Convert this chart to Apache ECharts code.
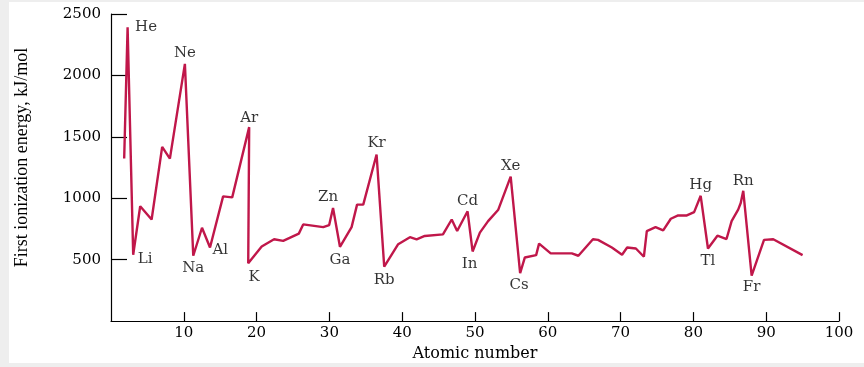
<!DOCTYPE html>
<html><head><meta charset="utf-8">
<script src="https://cdn.jsdelivr.net/npm/echarts@6/dist/echarts.min.js"></script>
<style>html,body{margin:0;padding:0;background:#fff}#c{width:864px;height:367px}</style>
</head><body><div id="c"></div><script>
// Atomic number (as drawn) and first ionization energy (kJ/mol)
const atomicX = [1.81,2.28,3.05,4.01,5.58,7.03,8.09,10.15,11.3,12.5,13.6,15.4,16.65,18.98,18.85,20.7,22.4,23.65,25.8,26.4,29.15,29.97,30.5,31.45,33.05,33.8,34.65,36.48,37.53,39.45,41.06,41.98,43.1,45.6,46.8,47.55,48.98,49.67,50.67,51.8,53.2,54.9,56.2,56.85,58.4,58.8,60.4,63.3,64.2,66.2,66.9,68.8,70.2,70.9,72.1,73.2,73.6,74.8,75.85,76.9,77.9,79.1,80.1,81.0,82.0,83.3,84.55,85.25,86.15,86.5,86.85,88.0,89.7,90.97,95.0];
const energy = [1323,2392,540,935,827,1418,1323,2094,532,760,599,1015,1007,1579,470,607,666,653,712,787,765,782,921,605,765,948,948,1356,443,626,683,666,693,706,827,733,894,567,720,814,907,1176,390,518,537,631,551,551,532,666,661,599,540,599,591,524,733,765,739,833,860,860,887,1020,591,695,668,814,907,961,1061,371,661,666,537];
const labelNames = ['He','Li','Ne','Na','Al','Ar','K','Zn','Ga','Kr','Rb','Cd','In','Xe','Cs','Hg','Tl','Rn','Fr'];
const labelIndex = [1,2,7,8,10,13,14,22,23,27,28,36,37,41,42,63,64,70,71];
const yTicks = [0,500,1000,1500,2000,2500];
const xTicks = [0,10,20,30,40,50,60,70,80,90,100];
const xTitle = 'Atomic number';
const yTitle = 'First ionization energy, kJ/mol';

// label placement (style only)
const labelStyle = {
  He:['right',7,[0,0]], Li:['right',4,[0,4]], Ne:['top',3,[0,0]], Na:['bottom',5,[0,0]],
  Al:['right',2,[0,3]], Ar:['top',2,[0,0]], K:['bottom',6,[6,0]], Zn:['top',3,[-5,0]],
  Ga:['bottom',6,[0,0]], Kr:['top',4,[0,0]], Rb:['bottom',6,[0,0]], Cd:['top',3,[0,0]],
  In:['bottom',5,[-3,0]], Xe:['top',3,[0,0]], Cs:['bottom',4,[-1,0]], Hg:['top',3,[0,0]],
  Tl:['bottom',5,[0,0]], Rn:['top',2,[0,0]], Fr:['bottom',4,[0,0]]
};

const lineData = atomicX.map((x,i)=>[x, energy[i]]);
const labelData = labelIndex.map((idx,k)=>{
  const s = labelStyle[labelNames[k]];
  return {
    value:[atomicX[idx], energy[idx]],
    name: labelNames[k],
    label:{show:true, position:s[0], distance:s[1], offset:s[2], formatter: labelNames[k]}
  };
});

const serif = 'DejaVu Serif';
const ink = '#000000';
const chart = echarts.init(document.getElementById('c'), null, {renderer:'canvas'});
chart.setOption({
  animation:false,
  backgroundColor:'#ffffff',
  graphic:[
    {type:'rect', z:-10, shape:{x:0,y:0,width:9,height:367}, style:{fill:'#eeeeee'}},
    {type:'rect', z:-10, shape:{x:0,y:0,width:864,height:2}, style:{fill:'#eeeeee'}},
    {type:'rect', z:-10, shape:{x:0,y:363,width:864,height:4}, style:{fill:'#eeeeee'}}
  ],
  grid:{left:111, right:25, top:14, bottom:43},
  xAxis:{
    type:'value', min:xTicks[0], max:xTicks[xTicks.length-1], interval:10,
    name:xTitle, nameLocation:'middle', nameGap:23,
    nameTextStyle:{fontFamily:serif, fontSize:16, color:ink},
    axisLine:{show:true, onZero:false, lineStyle:{color:ink, width:1.2}},
    axisTick:{show:true, inside:true, length:9, lineStyle:{color:ink, width:1.2}},
    axisLabel:{showMinLabel:false, margin:5, fontFamily:serif, fontSize:15, color:ink,
      formatter:(v)=>String(v)},
    splitLine:{show:false}
  },
  yAxis:{
    type:'value', min:yTicks[0], max:yTicks[yTicks.length-1], interval:500,
    name:yTitle, nameLocation:'middle', nameGap:80, nameRotate:90,
    nameTextStyle:{fontFamily:'Liberation Serif', fontSize:18, color:ink, padding:[0,0,0,20]},
    axisLine:{show:true, lineStyle:{color:ink, width:1.2}},
    axisTick:{show:true, inside:true, length:16, lineStyle:{color:ink, width:1.2}},
    axisLabel:{showMinLabel:false, margin:10, fontFamily:serif, fontSize:15, color:ink,
      formatter:(v)=>String(v)},
    splitLine:{show:false}
  },
  series:[
    {type:'line', data:lineData, symbol:'none', smooth:false,
     lineStyle:{color:'#c0174a', width:2.4}, z:2},
    {type:'scatter', data:labelData, symbolSize:1, itemStyle:{color:'rgba(0,0,0,0)'},
     label:{fontFamily:serif, fontSize:15, lineHeight:14, color:ink}, z:3}
  ]
});
</script></body></html>
